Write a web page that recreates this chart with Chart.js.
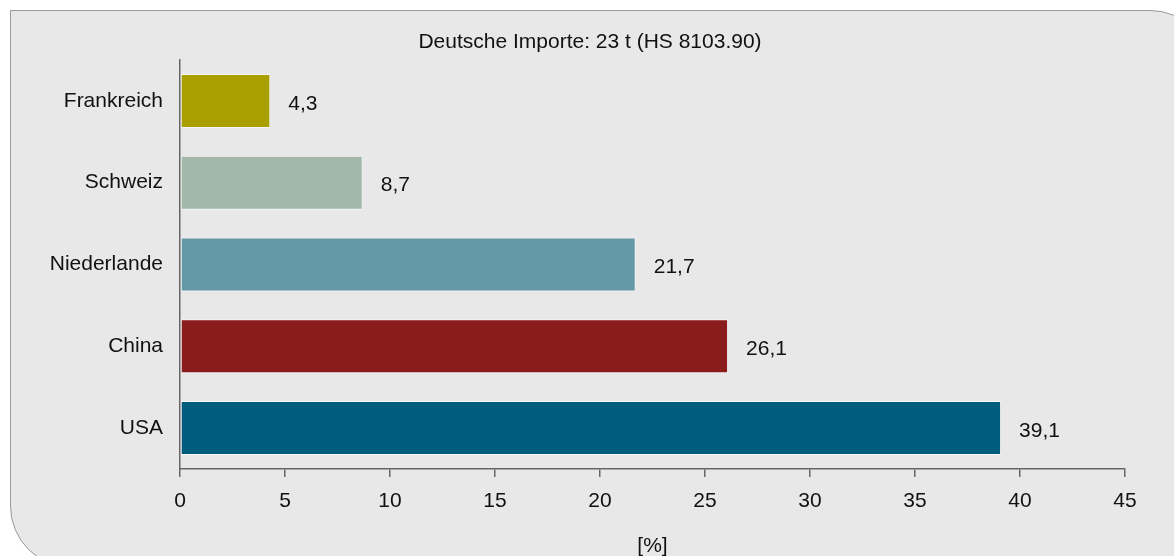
<!DOCTYPE html>
<html lang="de">
<head>
<meta charset="utf-8">
<title>Deutsche Importe HS 8103.90</title>
<script src="https://cdn.jsdelivr.net/npm/chart.js@4"></script>
<style>
    html, body { margin: 0; padding: 0; background: #ffffff; overflow: hidden; }
    #panel {
        position: absolute; left: 10px; top: 10px; width: 1200px; height: 556px;
        background: #e8e8e8; border: 1px solid #999999;
        border-radius: 0 62px 0 62px;
    }
    #wrap { position: absolute; left: 0; top: 0; width: 1174px; height: 556px; }
</style>
</head>
<body>
<div id="panel"></div>
<div id="wrap"><canvas id="importChart" width="1174" height="556"></canvas></div>
<script>
// Herkunftsländer und Anteile in %
const countries = ['Frankreich', 'Schweiz', 'Niederlande', 'China', 'USA'];
const shares = [4.3, 8.7, 21.7, 26.1, 39.1];
const barColors = ['#aa9f00', '#a3b8a9', '#6499a7', '#8a1c1c', '#005c7c'];
const xTicks = [0, 5, 10, 15, 20, 25, 30, 35, 40, 45];
const chartTitle = 'Deutsche Importe: 23 t (HS 8103.90)';

const FONT = "'Liberation Sans', Arial, sans-serif";
const FONT_SIZE = 21;

// Überschrift über die ganze Breite zentriert, Werte rechts neben die Balken
const valueLabels = {
    id: 'valueLabels',
    afterDatasetsDraw(chart) {
        const ctx = chart.ctx;
        const meta = chart.getDatasetMeta(0);
        ctx.save();
        ctx.font = FONT_SIZE + 'px ' + FONT;
        ctx.fillStyle = '#111111';
        ctx.textBaseline = 'middle';

        ctx.textAlign = 'center';
        ctx.fillText(chartTitle, chart.width / 2 + 3, 42);

        ctx.textAlign = 'left';
        meta.data.forEach((bar, i) => {
            const txt = shares[i].toFixed(1).replace('.', ',');
            ctx.fillText(txt, bar.x + 18, bar.y + 3);
        });
        ctx.restore();
    }
};

const ctx = document.getElementById('importChart').getContext('2d');
new Chart(ctx, {
    type: 'bar',
    data: {
        labels: countries,
        datasets: [{
            data: shares,
            backgroundColor: barColors,
            borderColor: 'rgba(255, 255, 255, 0.6)',
            borderWidth: 1,
            borderSkipped: false,
            categoryPercentage: 1,
            barPercentage: 0.66
        }]
    },
    options: {
        indexAxis: 'y',
        responsive: false,
        animation: false,
        layout: { padding: { left: 0, right: 49, top: 60, bottom: 0 } },
        plugins: {
            legend: { display: false },
            tooltip: { enabled: false },
            title: { display: false }
        },
        scales: {
            x: {
                type: 'linear',
                min: 0,
                max: 45,
                afterBuildTicks(scale) {
                    scale.ticks = xTicks.map(v => ({ value: v }));
                },
                afterFit(scale) { scale.height = 87; },
                grid: {
                    drawOnChartArea: false,
                    drawTicks: true,
                    tickLength: 8,
                    color: '#666666',
                    lineWidth: 1.5
                },
                border: { display: true, color: '#666666', width: 1.5 },
                ticks: {
                    color: '#111111',
                    padding: 12,
                    font: { family: FONT, size: FONT_SIZE }
                },
                title: {
                    display: true,
                    text: '[%]',
                    color: '#111111',
                    font: { family: FONT, size: FONT_SIZE },
                    padding: { top: 4, bottom: -3 }
                }
            },
            y: {
                afterFit(scale) { scale.width = 180; },
                grid: { drawOnChartArea: false, drawTicks: false },
                border: { display: true, color: '#666666', width: 1.5 },
                ticks: {
                    color: '#111111',
                    padding: 17,
                    font: { family: FONT, size: FONT_SIZE }
                }
            }
        }
    },
    plugins: [valueLabels]
});
</script>
</body>
</html>
